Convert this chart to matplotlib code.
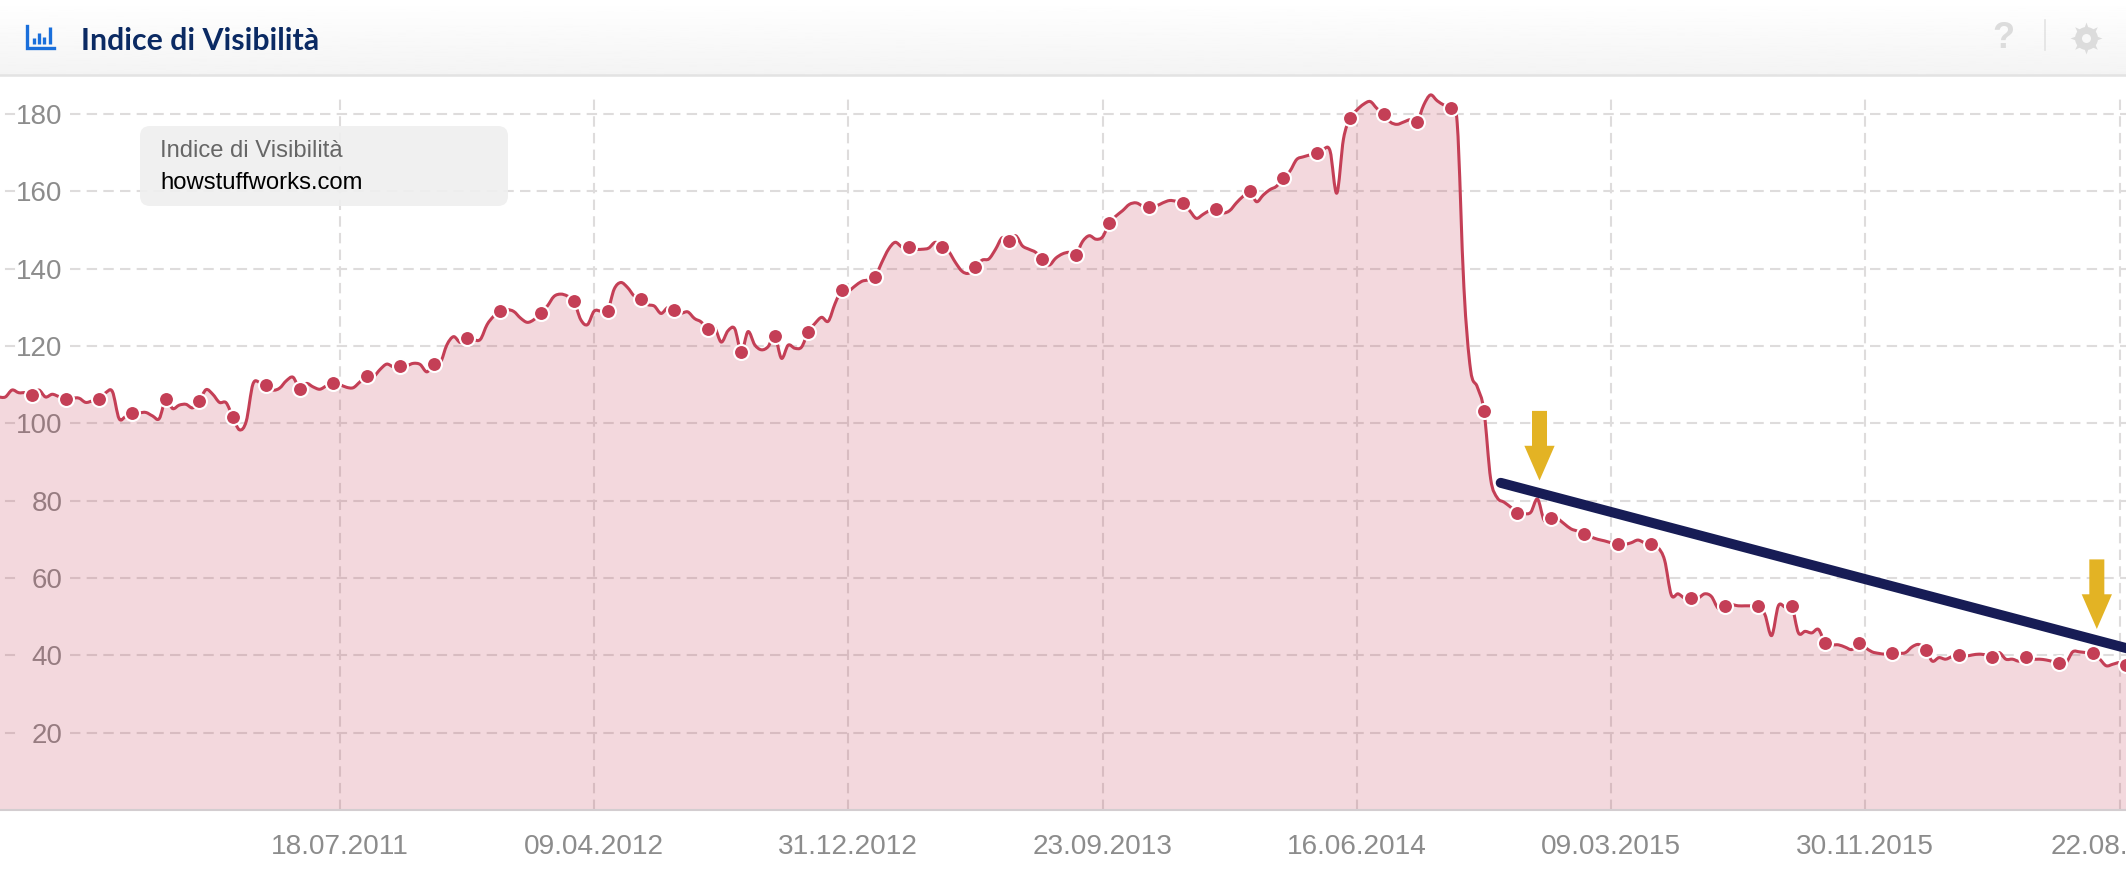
import matplotlib
matplotlib.use("Agg")
import matplotlib.pyplot as plt
import numpy as np
from matplotlib.patches import FancyBboxPatch, PathPatch
from matplotlib.path import Path

plt.rcParams["font.family"] = ["Liberation Sans", "DejaVu Sans"]

# Settimane rispetto al 18.07.2011, un valore a settimana
first_week = -51
visibility = [
    106.8, 106.8, 108.6, 107.9, 107.9, 107.3,
    108.6, 106.8, 107.5, 106.9, 106.3,
    106.5, 106.5, 105.4, 105.8, 106.3,
    107.9, 108.2, 101.2, 101.8, 102.7,
    102.7, 102.8, 101.9, 101.2, 106.3,
    103.8, 104.7, 104.9, 104.0, 105.8,
    108.7, 107.5, 105.4, 105.3, 101.6,
    98.3, 100.5, 110.1, 110.6, 110.0,
    108.6, 109.1, 111.0, 111.9, 108.9,
    110.3, 109.4, 108.8, 109.7, 110.5,
    110.0, 109.3, 109.2, 110.7, 112.1,
    112.0, 113.9, 115.3, 114.6, 114.8,
    114.9, 115.5, 115.2, 113.3, 115.3,
    115.6, 120.3, 122.4, 120.9, 122.1,
    121.6, 121.7, 125.5, 127.7, 129.0,
    129.4, 128.9, 127.2, 126.1, 126.8, 128.5,
    130.3, 132.8, 133.4, 132.9, 131.5,
    126.8, 125.5, 129.0, 129.0, 129.0,
    134.7, 136.4, 135.1, 132.9, 132.1,
    130.7, 130.3, 128.4, 129.9, 129.4,
    128.5, 128.8, 127.1, 126.2, 124.3,
    124.8, 121.0, 123.9, 124.5, 118.5,
    123.7, 120.3, 119.0, 119.8, 122.6,
    116.8, 120.2, 119.4, 119.7, 123.6,
    125.8, 127.4, 126.4, 130.9, 134.4,
    134.2, 135.5, 136.7, 137.1, 137.9,
    141.6, 145.0, 146.8, 145.6, 145.6,
    145.0, 145.0, 145.3, 146.8, 145.6,
    144.4, 141.6, 139.3, 138.8, 140.5,
    142.2, 142.5, 145.0, 148.0, 147.2,
    148.5, 145.9, 145.0, 144.2, 142.4,
    140.9, 142.7, 143.8, 144.2, 143.6,
    147.0, 148.5, 147.6, 148.2, 151.8,
    153.6, 155.0, 156.6, 157.0, 156.2, 156.0,
    156.2, 157.0, 157.6, 157.4, 156.9,
    155.0, 153.0, 154.0, 155.0, 155.4,
    154.4, 155.0, 157.0, 158.7, 160.0,
    157.3, 159.0, 160.4, 161.3, 163.4,
    165.2, 168.2, 168.9, 169.4, 170.0,
    170.9, 170.4, 159.5, 173.5, 178.9,
    181.0, 182.5, 183.2, 181.4, 180.0,
    177.9, 177.3, 177.9, 178.5, 177.9,
    182.3, 184.9, 183.4, 182.3, 181.5,
    177.6, 135.2, 113.8, 109.4, 103.3,
    85.6, 80.7, 79.6, 78.3, 76.9,
    76.6, 77.0, 80.4, 74.9, 75.4,
    75.3, 74.0, 72.7, 72.1, 71.3,
    70.6, 70.0, 69.6, 69.1, 68.7,
    68.7, 69.1, 69.8, 69.1, 68.7,
    67.9, 64.6, 55.6, 55.9, 54.8, 54.9,
    54.8, 55.9, 55.2, 52.2, 52.8,
    53.1, 52.8, 52.8, 52.8, 52.8,
    50.5, 45.1, 52.8, 52.5, 52.8,
    45.8, 46.2, 45.8, 46.7, 43.1,
    42.7, 42.7, 42.1, 41.5, 43.1,
    42.0, 40.9, 40.5, 40.3, 40.5,
    40.5, 40.7, 42.2, 42.8, 41.5,
    38.5, 39.4, 39.0, 39.7, 40.0,
    39.8, 40.1, 40.3, 40.1, 39.5,
    40.7, 39.0, 39.0, 38.5, 39.5,
    39.0, 39.0, 38.8, 38.4, 37.9,
    38.1, 40.9, 40.9, 40.7, 40.7,
    39.1, 37.3, 37.7, 38.1, 37.4,
]
marker_weeks = [
    -46, -41, -36, -31, -26, -21, -16, -11, -6, -1, 4, 9, 14, 19, 24, 30, 35, 40, 45, 50,
    55, 60, 65, 70, 75, 80, 85, 90, 95, 100, 105, 110, 115, 121, 126, 131, 136, 141, 146,
    151, 156, 161, 166, 171, 176, 181, 186, 191, 196, 202, 207, 212, 217, 222, 227, 232,
    237, 242, 247, 252, 257, 262, 267,
]
tick_weeks = [0, 38, 76, 114, 152, 190, 228, 266]
tick_dates = ["18.07.2011", "09.04.2012", "31.12.2012", "23.09.2013",
              "16.06.2014", "09.03.2015", "30.11.2015", "22.08."]
y_ticks = [20, 40, 60, 80, 100, 120, 140, 160, 180]

trend_weeks = [173.5, 268]
trend_values = [84.6, 41.4]
arrow_weeks = [179.3, 262.6]
arrow_tips = [85.2, 46.8]

RED = "#C43F56"
GRID = "#DEDCDC"
GOLD = "#E3B324"
NAVY = "#171C55"
BLUE = "#1A6FDB"
LABEL = "#8C8C8C"
W, H = 2126, 876
PLOT_TOP, PLOT_BOTTOM = 76, 810

fig = plt.figure(figsize=(W / 100, H / 100), dpi=100, facecolor="white")
ax = fig.add_axes([0, 1 - PLOT_BOTTOM / H, 1, (PLOT_BOTTOM - PLOT_TOP) / H])
ax.set_xlim(-50.8, 266.96)
ax.set_ylim(0, 189.8)
ax.patch.set_visible(False)
for side in ["top", "left", "right"]:
    ax.spines[side].set_visible(False)
ax.spines["bottom"].set_color("#D3CDD0")
ax.spines["bottom"].set_linewidth(1.5)

ax.set_axisbelow(True)
# l'ultima etichetta è tagliata dal bordo nell'originale: va messa a parte
ax.set_xticks(tick_weeks[:-1], tick_dates[:-1])
ax.set_yticks(y_ticks, [str(v) for v in y_ticks])
ax.tick_params(axis="x", length=0, pad=17, labelsize=20.2, labelcolor=LABEL)
ax.tick_params(axis="y", length=0, pad=-45, labelsize=20, labelcolor=LABEL)
ax.annotate(tick_dates[-1], xy=(tick_weeks[-1], 0), xytext=(-50, -17), xycoords="data",
            textcoords="offset points", fontsize=20.2, color=LABEL, ha="left", va="top",
            annotation_clip=False)

# griglia tratteggiata, interrotta dove c'è l'etichetta
dash = (0, (5, 3))
ytrans = ax.get_yaxis_transform()
for v in y_ticks:
    ax.plot([6 / W, 14 / W], [v, v], transform=ytrans, color=GRID, lw=1.5, zorder=0.4)
    ax.plot([70 / W, 1], [v, v], transform=ytrans, color=GRID, lw=1.5, ls=dash, zorder=0.4)
for w in tick_weeks:
    ax.plot([w, w], [0, 185], color=GRID, lw=1.5, ls=dash, zorder=0.4)

# curva spline: punti di controllo Catmull-Rom sui valori settimanali
weeks = np.arange(first_week, first_week + len(visibility))
pts = np.column_stack([weeks, visibility])
prev_pts = np.vstack([pts[0], pts[:-1]])
next_pts = np.vstack([pts[1:], pts[-1]])
tangents = (next_pts - prev_pts) / 6
verts = [pts[0]]
codes = [Path.MOVETO]
for i in range(len(pts) - 1):
    verts += [pts[i] + tangents[i], pts[i + 1] - tangents[i + 1], pts[i + 1]]
    codes += [Path.CURVE4] * 3

fill_verts = verts + [(weeks[-1], 0), (weeks[0], 0), (weeks[0], 0)]
fill_codes = codes + [Path.LINETO, Path.LINETO, Path.CLOSEPOLY]
ax.add_patch(PathPatch(Path(fill_verts, fill_codes), facecolor=RED, edgecolor="none",
                       alpha=0.2, zorder=1))
ax.add_patch(PathPatch(Path(verts, codes), facecolor="none", edgecolor=RED, lw=2.2,
                       capstyle="round", joinstyle="round", zorder=3))

marker_values = [visibility[w - first_week] for w in marker_weeks]
ax.plot(marker_weeks, marker_values, ls="none", marker="o", ms=10.8, mfc=RED,
        mec="white", mew=1.5, zorder=4)

# annotazioni: linea di tendenza e frecce
ax.plot(trend_weeks, trend_values, color=NAVY, lw=7.2, solid_capstyle="round", zorder=5)
for w, tip in zip(arrow_weeks, arrow_tips):
    ax.annotate("", xy=(w, tip), xytext=(w, tip + 18), zorder=6,
                arrowprops=dict(width=10.8, headwidth=21.8, headlength=25, shrink=0,
                                facecolor=GOLD, edgecolor="none"))

# intestazione e riquadro, in coordinate pixel
over = fig.add_axes([0, 0, 1, 1], zorder=10)
over.axis("off")
grad = np.linspace(1.0, 0.955, 64).reshape(-1, 1)
over.imshow(grad, extent=(0, W, 75, 0), aspect="auto", cmap="gray", vmin=0, vmax=1, zorder=1)
over.set_xlim(0, W)
over.set_ylim(H, 0)
over.plot([0, W], [75, 75], color="#E3E3E3", lw=1.8, zorder=2)

over.text(81, 41, "Indice di Visibilità", family="Lato", fontweight="bold", fontsize=21.8,
          color="#0B2A63", va="center", ha="left")
over.plot([27, 27, 54], [26, 48, 48], color=BLUE, lw=2.4, solid_joinstyle="miter")
for x, top in [(34, 38), (39, 33), (44, 37), (50, 27)]:
    over.plot([x, x], [43.5, top], color=BLUE, lw=2.4, solid_capstyle="butt")

over.text(2003, 39, "?", fontweight="bold", fontsize=26, color="#DCDCDC", ha="center", va="center")
over.plot([2045, 2045], [20, 50], color="#E3E3E3", lw=1.2)
over.plot([2086], [38], marker=(8, 1, 0), ms=23, color="#DCDCDC", mew=0, zorder=3)
over.plot([2086], [38], marker="o", ms=16.5, color="#DCDCDC", mew=0, zorder=3)
over.plot([2086], [38], marker="o", ms=6.5, color="#F8F8F8", mew=0, zorder=4)

over.add_patch(FancyBboxPatch((150, 136), 348, 60, boxstyle="round,pad=10,rounding_size=10",
                              facecolor="#EFEFEF", edgecolor="none", alpha=0.93))
over.text(160, 151, "Indice di Visibilità", fontsize=17.1, color="#666666", va="center", ha="left")
over.text(160, 183, "howstuffworks.com", fontsize=17.2, color="black", va="center", ha="left")

fig.savefig("out.png", dpi=100)
plt.close(fig)
